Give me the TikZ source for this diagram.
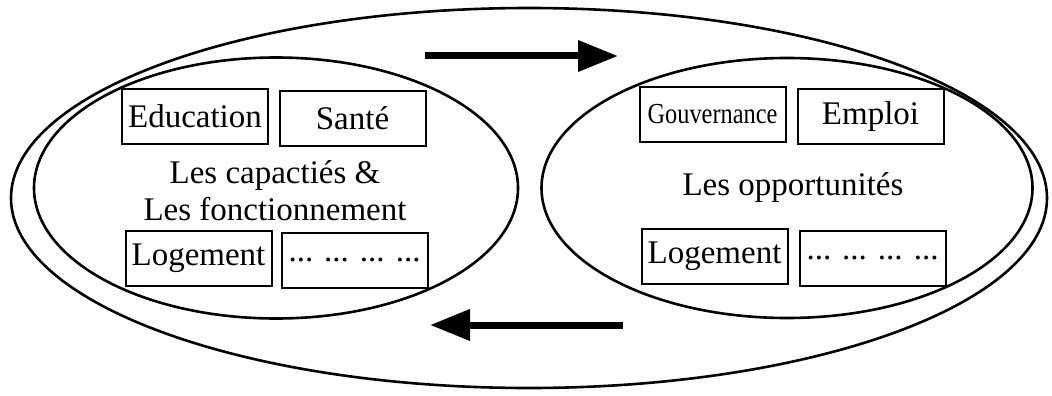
\documentclass[tikz,border=0pt]{standalone}
\usepackage{fontspec}
\usepackage{graphicx}
\setmainfont{Liberation Serif}
\usetikzlibrary{shapes.geometric,arrows.meta}

\begin{document}
\begin{tikzpicture}[x=1pt,y=-1pt,
  loop/.style={draw,ellipse,line width=2.6pt,inner sep=0pt},
  itembox/.style={draw,line width=2pt,inner sep=0pt,minimum width=146pt,minimum height=55pt,
    font=\fontsize{33}{38}\selectfont},
  caption/.style={align=center,font=\fontsize{33}{37}\selectfont},
  flow/.style={line width=7pt,-{Triangle[length=40pt,width=30pt]}}]
\useasboundingbox (0,0) rectangle (1052,396);

% enclosing cycle and the two domains
\node[loop,minimum width=1036pt,minimum height=380pt] (outer) at (529,198) {};
\node[loop,minimum width=484pt,minimum height=261pt] (cap) at (276,188) {};
\node[loop,minimum width=491pt,minimum height=260pt] (opp) at (787,188) {};

% capabilities side
\node[itembox] (edu) at (195,116.5) {Education};
\node[itembox] (sante) at (352.5,118.5) {Santé};
\node[itembox] (logL) at (198.5,258) {Logement};
\node[itembox] (dotsL) at (354.5,260) {... ... ... ...};
\node[caption] (capt) at (275,191) {Les capactiés \&\\Les fonctionnement};

% opportunities side
\node[itembox] (gouv) at (712.5,114.5) {\fontsize{29}{34}\selectfont\scalebox{0.84}[1]{Gouvernance}};
\node[itembox] (emploi) at (870.5,116.5) {Emploi};
\node[itembox] (logR) at (714.5,256.5) {Logement};
\node[itembox] (dotsR) at (872.5,258.5) {... ... ... ...};
\node[caption] (oppt) at (793,188) {Les opportunités};

% circulation arrows
\coordinate (topA) at (425,56);
\coordinate (topB) at (618,56);
\coordinate (botA) at (623,325);
\coordinate (botB) at (430,325);
\draw[flow] (topA) -- (topB);
\draw[flow] (botA) -- (botB);
\end{tikzpicture}
\end{document}
